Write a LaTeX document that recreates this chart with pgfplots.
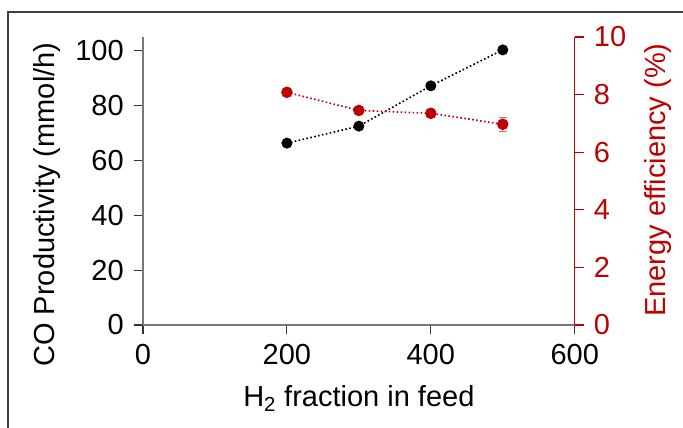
\documentclass[border=0pt]{standalone}
\usepackage{pgfplots}
\pgfplotsset{compat=1.18}
\usepackage{fontspec}
\setmainfont{Liberation Sans}
\definecolor{myred}{RGB}{192,0,0}
\definecolor{errred}{RGB}{225,110,110}
\definecolor{axgray}{RGB}{120,120,120}
\begin{document}
\fontsize{21.75}{26}\selectfont
\begin{tikzpicture}
\useasboundingbox (-107.25pt,-77.25pt) rectangle (405pt,243.75pt);
\draw[line width=1.1pt, color=black!75] (-101.25pt,-80pt) -- (-101.25pt,234.75pt) -- (410pt,234.75pt);
\begin{axis}[
  scale only axis, width=323.8pt, height=216pt,
  at={(0pt,0pt)}, anchor=origin,
  xmin=0, xmax=600, ymin=0, ymax=105,
  axis x line*=bottom, axis y line*=left,
  axis line style={axgray, line width=0.8pt, -},
  xtick={0,200,400,600}, ytick={0,20,40,60,80,100},
  tick align=outside, major tick length=7pt,
  tick style={black!80, line width=0.8pt},
  /pgf/number format/assume math mode=true,
  ticklabel style={font=\fontsize{21.75}{26}\selectfont},
  label style={font=\fontsize{21.75}{26}\selectfont},
  xlabel={H\textsubscript{2} fraction in feed},
  xlabel style={at={(axis description cs:0.5,-0.284)}, anchor=base},
  ylabel={CO Productivity (mmol/h)},
  ylabel style={at={(axis description cs:-0.2224,0.418)}, anchor=center},
  clip=false,
]
\addplot[black, line width=1.2pt, dash pattern=on 1.2pt off 1.8pt, mark=*, mark size=3.5pt, mark options={solid}]
  coordinates {(200,66.3) (300,72.5) (400,87.2) (500,100.3)};
\end{axis}
\begin{axis}[
  scale only axis, width=323.8pt, height=216pt,
  at={(0pt,0pt)}, anchor=origin,
  xmin=0, xmax=600, ymin=0, ymax=10,
  axis x line=none, axis y line*=right,
  axis line style={myred, line width=0.8pt, -},
  ytick={0,2,4,6,8,10},
  tick align=outside, major tick length=7pt,
  tick style={myred, line width=0.8pt},
  /pgf/number format/assume math mode=true,
  ticklabel style={font=\fontsize{21.75}{26}\selectfont, color=myred},
  ylabel={Energy efficiency (\%)},
  ylabel style={font=\fontsize{21.75}{26}\selectfont, color=myred, at={(axis description cs:1.192,0.503)}, anchor=center},
  clip=false,
]
\addplot[myred, line width=1.2pt, dash pattern=on 1.2pt off 1.8pt, mark=*, mark size=3.7pt, mark options={solid},
  error bars/.cd, y dir=both, y explicit,
  error bar style={errred, line width=0.8pt, solid},
  error mark options={rotate=90, mark size=3pt, errred, line width=0.8pt}]
  coordinates {(200,8.08) +- (0,0.12) (300,7.45) +- (0,0.06) (400,7.35) +- (0,0.14) (500,6.97) +- (0,0.25)};
\end{axis}
\end{tikzpicture}
\end{document}
